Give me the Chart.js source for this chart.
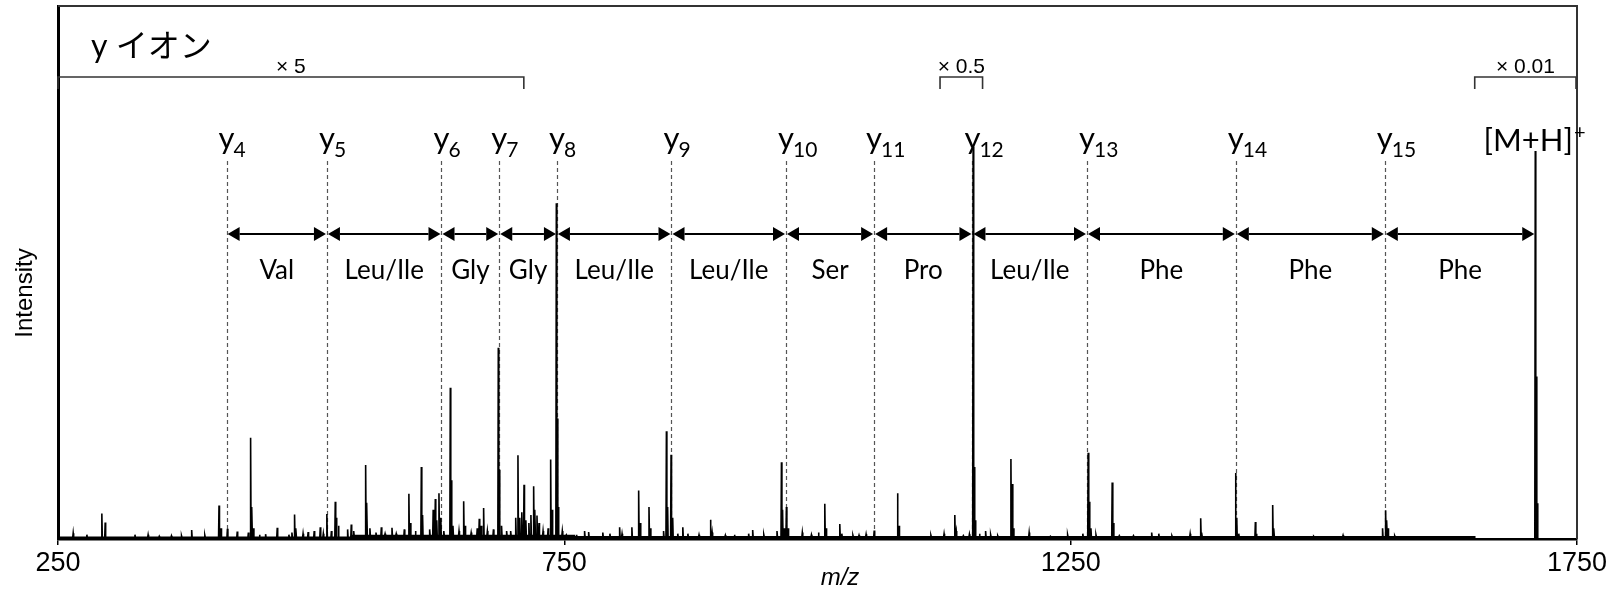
<!DOCTYPE html>
<html>
<head>
<meta charset="utf-8">
<script src="https://cdn.jsdelivr.net/npm/chart.js@4"></script>
<style>
  body { margin: 0; background: #fff; }
  #wrap { width: 1613px; height: 589px; }
</style>
</head>
<body>
<div id="wrap"><canvas id="spectrum" width="1613" height="589"></canvas></div>
<script>

// MS/MS spectrum, peak list (m/z, relative intensity in % of the plot height)
var peakMz = [
  265, 278.5, 293.3, 296.6, 326, 339, 350, 362, 372, 382, 395, 409, 411, 417.3, 427, 438,
  440.2, 441.5, 443, 449, 455, 466.5, 478, 481, 483.6, 485, 492, 497, 503, 509, 512, 515.5,
  520, 523.8, 525, 527, 536, 539.6, 542, 553.8, 555, 558, 564, 569.3, 573, 579.8, 584, 592,
  596.5, 598, 603, 608.8, 610, 617, 620.5, 622.6, 624, 626.2, 628, 631, 637.4, 638.6, 640,
  646, 650.6, 652, 658, 664, 666, 668, 670.3, 674, 680, 684.8, 686, 688, 693, 697, 702,
  704.2, 706, 708, 710.2, 712, 715, 717, 719.7, 721, 723, 725, 729, 734, 736.5, 738,
  742.1, 743.1, 744.2, 748, 752, 762, 770, 774, 788, 795, 804.6, 807, 816.7, 823.4, 825,
  833.6, 835, 848, 850.8, 852, 855.4, 857, 862, 867, 872, 883, 894.3, 896, 909, 918, 932,
  936, 947, 960, 964.4, 965.5, 967, 969.3, 971, 985, 994, 1001, 1007.2, 1008.5, 1022, 1024,
  1035, 1041, 1048, 1056, 1079, 1080.5, 1112, 1125, 1135.6, 1137, 1144, 1150, 1153.7,
  1154.8, 1156, 1160, 1166, 1171, 1178, 1191, 1192.2, 1193.5, 1209, 1230, 1247, 1262,
  1267.3, 1268.4, 1270, 1275, 1291, 1292.2, 1298, 1312, 1330, 1337, 1350, 1368, 1378.4,
  1379.5, 1412.8, 1414, 1416, 1432.4, 1433.5, 1449.5, 1450.7, 1490, 1519, 1558, 1561,
  1562.2, 1563.4, 1570, 1708.8, 1709.8, 1710.8
];
var peakIntensity = [
  1.1, 0.8, 4.8, 3.1, 0.8, 0.8, 0.5, 0.6, 0.6, 1.7, 0.7, 6.3, 2.0, 1.9, 1.4, 1.2,
  19.0, 6.0, 2.0, 0.8, 0.9, 2.1, 0.8, 1.2, 4.6, 2.0, 1.0, 1.3, 1.5, 2.2, 1.0, 4.7,
  1.5, 7.0, 4.0, 2.5, 1.8, 2.7, 1.5, 13.9, 6.8, 2.0, 1.2, 2.2, 1.0, 2.1, 1.0, 1.8,
  8.5, 3.0, 1.5, 13.5, 4.5, 1.8, 5.5, 7.5, 3.5, 8.6, 4.0, 1.5, 28.4, 11.0, 2.5,
  1.5, 7.1, 2.5, 1.2, 2.0, 3.8, 2.5, 5.8, 1.5, 1.8, 35.9, 13.0, 2.5, 1.5, 1.5, 4.0,
  15.7, 4.0, 5.0, 10.2, 3.5, 3.0, 4.5, 9.9, 5.5, 4.4, 3.0, 1.5, 2.0, 14.9, 5.5,
  63.0, 22.6, 6.0, 1.5, 0.8, 0.8, 1.5, 1.3, 1.2, 1.0, 2.2, 1.0, 2.2, 9.1, 3.0,
  6.0, 2.0, 1.5, 20.2, 6.0, 15.8, 4.0, 1.0, 2.2, 1.0, 0.8, 3.6, 1.2, 0.7, 0.8, 1.0,
  1.7, 0.8, 1.5, 14.4, 5.5, 2.0, 6.0, 2.0, 1.2, 0.8, 1.2, 6.6, 2.0, 2.8, 1.0,
  0.7, 0.7, 0.9, 1.6, 8.6, 2.5, 0.7, 1.0, 4.5, 1.5, 0.6, 0.9, 73.6,
  13.5, 3.5, 1.0, 1.5, 0.8, 0.6, 15.0, 10.3, 2.0, 1.2, 0.5, 0.8, 1.0,
  16.2, 7.0, 2.0, 0.8, 10.6, 3.0, 0.6, 0.6, 1.2, 1.0, 0.6, 1.0, 3.9,
  1.2, 12.4, 4.0, 1.0, 3.2, 1.0, 6.4, 2.0, 0.5, 0.7, 2.0, 5.4,
  3.5, 2.0, 0.6, 72.8, 30.5, 6.7
];

// noise floor level, stepwise from each m/z onward
var baseFrom  = [250, 540, 760, 1649];
var baseLevel = [0.3, 0.65, 0.4, 0.0];

// y ion ladder
var ionIndex = [4, 5, 6, 7, 8, 9, 10, 11, 12, 13, 14, 15];
var ionMz = [416.5, 515.6, 628.7, 685.7, 742.7, 855.8, 968.9, 1055.9, 1153.0, 1266.1, 1413.1, 1560.2];
var precursorMz = 1708.8;
var residues = ['Val', 'Leu/Ile', 'Gly', 'Gly', 'Leu/Ile', 'Leu/Ile', 'Ser', 'Pro', 'Leu/Ile', 'Phe', 'Phe', 'Phe'];

// magnified ranges
var zoomStart = [250, 1121, 1649];
var zoomEnd   = [710, 1163, 1750];
var zoomLabel = ['× 5', '× 0.5', '× 0.01'];

var xTicks = [250, 750, 1250, 1750];

function floorAt(mz){
  var l = baseLevel[0];
  for (var i = 0; i < baseFrom.length; i++){
    if (mz >= baseFrom[i]) l = baseLevel[i];
  }
  return l;
}

function buildTrace(){
  var pts = [{x: 250, y: floorAt(250)}];
  var step = 1;
  for (var i = 0; i < peakMz.length; i++){
    var mz = peakMz[i];
    while (step < baseFrom.length && baseFrom[step] <= mz){
      pts.push({x: baseFrom[step], y: floorAt(baseFrom[step] - 0.01)});
      pts.push({x: baseFrom[step], y: baseLevel[step]});
      step++;
    }
    var b = floorAt(mz);
    pts.push({x: mz - 0.45, y: b});
    pts.push({x: mz, y: peakIntensity[i]});
    pts.push({x: mz + 0.45, y: b});
  }
  while (step < baseFrom.length){
    pts.push({x: baseFrom[step], y: floorAt(baseFrom[step] - 0.01)});
    pts.push({x: baseFrom[step], y: baseLevel[step]});
    step++;
  }
  pts.push({x: 1750, y: floorAt(1750)});
  return pts;
}

var ionLadder = {
  id: 'ionLadder',
  beforeDatasetsDraw: function(chart){
    var ctx = chart.ctx, xs = chart.scales.x, ys = chart.scales.y;
    var bottom = ys.getPixelForValue(0);
    ctx.save();
    ctx.strokeStyle = '#555';
    ctx.lineWidth = 1.2;
    ctx.setLineDash([4, 3]);
    ionMz.forEach(function(mz){
      var x = Math.round(xs.getPixelForValue(mz)) + 0.5;
      ctx.beginPath();
      ctx.moveTo(x, 161);
      ctx.lineTo(x, bottom);
      ctx.stroke();
    });
    ctx.restore();
  },
  afterDatasetsDraw: function(chart){
    var ctx = chart.ctx, xs = chart.scales.x, area = chart.chartArea;
    var px = function(v){ return xs.getPixelForValue(v); };
    ctx.save();

    // frame top and right
    ctx.strokeStyle = '#333';
    ctx.lineWidth = 2;
    ctx.beginPath();
    ctx.moveTo(area.left, area.top);
    ctx.lineTo(area.right, area.top);
    ctx.lineTo(area.right, area.bottom);
    ctx.stroke();

    // title
    ctx.fillStyle = '#000';
    ctx.textAlign = 'left';
    ctx.textBaseline = 'alphabetic';
    ctx.font = '32px Lato, "Noto Sans CJK JP"';
    ctx.fillText('y イオン', 91, 57);

    // magnification brackets
    ctx.strokeStyle = '#333';
    ctx.lineWidth = 1.6;
    ctx.font = '21px "Liberation Sans"';
    ctx.textAlign = 'center';
    for (var i = 0; i < zoomStart.length; i++){
      var x1 = px(zoomStart[i]), x2 = Math.min(px(zoomEnd[i]), area.right - 1);
      ctx.beginPath();
      ctx.moveTo(x1, 89);
      ctx.lineTo(x1, 77);
      ctx.lineTo(x2, 77);
      ctx.lineTo(x2, 89);
      ctx.stroke();
      ctx.fillText(zoomLabel[i], (x1 + x2) / 2, 73);
    }

    // ion labels
    ionMz.forEach(function(mz, k){
      var x = px(mz);
      ctx.font = '31px Lato';
      var w = ctx.measureText('y').width;
      ctx.textAlign = 'left';
      ctx.fillText('y', x - w / 2, 149);
      ctx.font = '21px Lato';
      ctx.fillText(String(ionIndex[k]), x + w / 2 - 1, 157);
    });
    var xp = px(precursorMz);
    ctx.font = '31px Lato';
    ctx.textAlign = 'center';
    ctx.fillText('[M+H]', xp - 7, 151);
    var wm = ctx.measureText('[M+H]').width;
    ctx.font = '20px Lato';
    ctx.textAlign = 'left';
    ctx.fillText('+', xp - 7 + wm / 2 + 1, 139);

    // arrows between ladder steps, residue names underneath
    var ladder = ionMz.concat([precursorMz]);
    var ay = 234, head = 12, half = 7;
    ctx.strokeStyle = '#000';
    ctx.lineWidth = 2;
    ctx.font = '26px Lato';
    ctx.textAlign = 'center';
    ctx.textBaseline = 'middle';
    for (var j = 0; j < ladder.length - 1; j++){
      var a = px(ladder[j]) + 1, b = px(ladder[j + 1]) - 1;
      ctx.beginPath();
      ctx.moveTo(a + head, ay);
      ctx.lineTo(b - head, ay);
      ctx.stroke();
      ctx.beginPath();
      ctx.moveTo(a, ay);
      ctx.lineTo(a + head, ay - half);
      ctx.lineTo(a + head, ay + half);
      ctx.closePath();
      ctx.fill();
      ctx.beginPath();
      ctx.moveTo(b, ay);
      ctx.lineTo(b - head, ay - half);
      ctx.lineTo(b - head, ay + half);
      ctx.closePath();
      ctx.fill();
      ctx.fillText(residues[j], (a + b) / 2, 271);
    }

    // axis titles
    ctx.font = 'italic 24px "Liberation Sans"';
    ctx.textBaseline = 'middle';
    ctx.fillText('m/z', 840, 578);
    ctx.translate(25, 293);
    ctx.rotate(-Math.PI / 2);
    ctx.font = '24px "Liberation Sans"';
    ctx.fillText('Intensity', 0, 0);
    ctx.restore();
  }
};

function drawSpectrum(){
  var ctx = document.getElementById('spectrum').getContext('2d');
  var chart = new Chart(ctx, {
    type: 'line',
    data: {
      datasets: [{
        data: buildTrace(),
        borderColor: '#000',
        backgroundColor: '#000',
        borderWidth: 1.6,
        pointRadius: 0,
        tension: 0,
        fill: 'origin'
      }]
    },
    options: {
      responsive: false,
      animation: false,
      layout: { padding: { top: 6, right: 36, left: 0, bottom: 0 } },
      plugins: { legend: { display: false }, tooltip: { enabled: false } },
      scales: {
        x: {
          type: 'linear',
          min: 250,
          max: 1750,
          afterFit: function(scale){ scale.height = 50; },
          afterBuildTicks: function(scale){
            scale.ticks = xTicks.map(function(v){ return { value: v }; });
          },
          ticks: {
            color: '#000',
            padding: 2,
            maxRotation: 0,
            font: { family: 'Liberation Sans', size: 27 },
            callback: function(v){ return String(v); }
          },
          grid: { drawOnChartArea: false, drawTicks: true, tickLength: 6, color: '#000', lineWidth: 1.5 },
          border: { display: true, color: '#000', width: 2.5 }
        },
        y: {
          min: 0,
          max: 100,
          afterFit: function(scale){ scale.width = 58; },
          ticks: { display: false },
          grid: { display: false, drawTicks: false },
          border: { display: true, color: '#000', width: 3 }
        }
      }
    },
    plugins: [ionLadder]
  });
}

drawSpectrum();
</script>
</body>
</html>
